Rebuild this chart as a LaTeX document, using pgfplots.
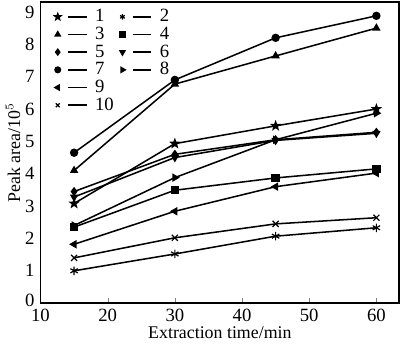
\documentclass[border=0pt]{standalone}
\usepackage{fontspec}
\setmainfont{Liberation Serif}
\usepackage{pgfplots}
\pgfplotsset{compat=1.18}
\pgfdeclareplotmark{fstar}{%
  \pgfpathmoveto{\pgfpointpolar{90}{1.1\pgfplotmarksize}}%
  \pgfpathlineto{\pgfpointpolar{126}{0.45\pgfplotmarksize}}%
  \pgfpathlineto{\pgfpointpolar{162}{1.1\pgfplotmarksize}}%
  \pgfpathlineto{\pgfpointpolar{198}{0.45\pgfplotmarksize}}%
  \pgfpathlineto{\pgfpointpolar{234}{1.1\pgfplotmarksize}}%
  \pgfpathlineto{\pgfpointpolar{270}{0.45\pgfplotmarksize}}%
  \pgfpathlineto{\pgfpointpolar{306}{1.1\pgfplotmarksize}}%
  \pgfpathlineto{\pgfpointpolar{342}{0.45\pgfplotmarksize}}%
  \pgfpathlineto{\pgfpointpolar{18}{1.1\pgfplotmarksize}}%
  \pgfpathlineto{\pgfpointpolar{54}{0.45\pgfplotmarksize}}%
  \pgfpathclose
  \pgfusepathqfillstroke
}
\begin{document}
\begin{tikzpicture}
\begin{axis}[
  scale only axis,
  width=211pt, height=177pt,
  xmin=10, xmax=63.4, ymin=0, ymax=9.3,
  xtick={10,20,30,40,50,60},
  xticklabels={10,20,30,40,50,60},
  ytick={0,1,...,9},
  yticklabels={\raisebox{3pt}{0},1,2,3,4,5,6,7,8,9},
  tick align=inside,
  xtick pos=bottom,
  ytick style={draw=none},
  major tick length=3pt,
  axis line style={line width=0.9pt},
  tick label style={font=\fontsize{11}{12}\selectfont},
  label style={font=\fontsize{10.5}{12}\selectfont},
  xlabel={Extraction time/min},
  ylabel={Peak area/10$^5$},
  xlabel style={yshift=4pt},
  ylabel style={yshift=-4pt},
  every axis plot/.append style={black, line width=0.9pt, mark size=2pt, mark options={solid}},
  legend columns=2,
  legend style={draw=none, fill=none, at={(0.025,1.0)}, anchor=north west,
    font=\fontsize{11}{12}\selectfont, row sep=-2.4pt, column sep=3pt,
    nodes={inner xsep=1.5pt},
    /tikz/every even column/.append style={column sep=2pt}},
  legend cell align=left,
  legend image code/.code={%
    \draw[#1,mark=none] (6pt,0pt) -- (17pt,0pt);
    \draw[#1,only marks,mark size=1.6pt] plot coordinates {(0pt,0pt)};
  },
]
\addplot[mark=fstar] coordinates {(15,3.08) (30,4.93) (45,5.48) (60,6.0)};
\addlegendentry{1}
\addplot[mark=asterisk, mark size=2.5pt, mark options={line width=0.7pt}] coordinates {(15,1.0) (30,1.52) (45,2.07) (60,2.33)};
\addlegendentry{2}
\addplot[mark=triangle*] coordinates {(15,4.1) (30,6.77) (45,7.64) (60,8.5)};
\addlegendentry{3}
\addplot[mark=square*] coordinates {(15,2.35) (30,3.49) (45,3.87) (60,4.15)};
\addlegendentry{4}
\addplot[mark=diamond*] coordinates {(15,3.45) (30,4.6) (45,5.05) (60,5.28)};
\addlegendentry{5}
\addplot[mark=triangle*, mark options={rotate=180}] coordinates {(15,3.28) (30,4.5) (45,5.03) (60,5.25)};
\addlegendentry{6}
\addplot[mark=*] coordinates {(15,4.65) (30,6.9) (45,8.2) (60,8.88)};
\addlegendentry{7}
\addplot[mark=triangle*, mark options={rotate=-90}] coordinates {(15,2.4) (30,3.88) (45,5.05) (60,5.87)};
\addlegendentry{8}
\addplot[mark=triangle*, mark options={rotate=90}] coordinates {(15,1.82) (30,2.84) (45,3.6) (60,4.02)};
\addlegendentry{9}
\addlegendimage{empty legend}
\addlegendentry{}
\addplot[mark=x, mark size=2.5pt, mark options={line width=0.7pt}] coordinates {(15,1.4) (30,2.02) (45,2.45) (60,2.64)};
\addlegendentry{10}
\end{axis}
\end{tikzpicture}
\end{document}
